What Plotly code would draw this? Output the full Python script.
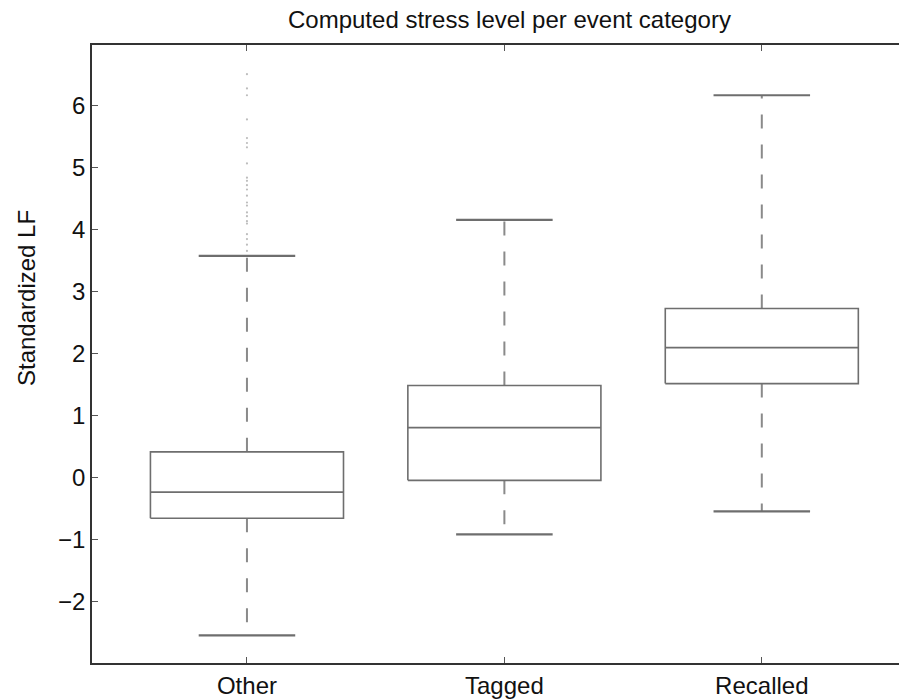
import plotly.graph_objects as go

categories = ["Other", "Tagged", "Recalled"]
q1 = [-0.66, -0.05, 1.51]
median = [-0.24, 0.80, 2.09]
q3 = [0.41, 1.48, 2.72]
lower_whisker = [-2.55, -0.92, -0.55]
upper_whisker = [3.57, 4.15, 6.16]
other_outliers = [6.50, 6.27, 6.16, 5.77, 5.47, 5.39, 5.32, 5.06, 4.83, 4.78,
                  4.71, 4.64, 4.54, 4.43, 4.38, 4.27, 4.21, 4.13, 4.09, 3.92,
                  3.84, 3.75, 3.65]
y_ticks = [-2, -1, 0, 1, 2, 3, 4, 5, 6]

BOX_HW = 0.375
CAP_HW = 0.1875
box_color = "#6e6e6e"
whisk_color = "#8a8a8a"
font = "Liberation Sans, Arial, Helvetica, sans-serif"
FS = 24

fig = go.Figure()
for i, cat in enumerate(categories):
    c = i + 1
    # whiskers (dashed)
    fig.add_trace(go.Scatter(x=[c, c], y=[q3[i], upper_whisker[i]], mode="lines",
                             line=dict(color=whisk_color, width=2, dash="14px,16px"),
                             hoverinfo="skip", showlegend=False))
    fig.add_trace(go.Scatter(x=[c, c], y=[q1[i], lower_whisker[i]], mode="lines",
                             line=dict(color=whisk_color, width=2, dash="14px,16px"),
                             hoverinfo="skip", showlegend=False))
    # caps
    for w in (upper_whisker[i], lower_whisker[i]):
        fig.add_trace(go.Scatter(x=[c - CAP_HW, c + CAP_HW], y=[w, w], mode="lines",
                                 line=dict(color=box_color, width=2.2),
                                 hoverinfo="skip", showlegend=False))
    # box
    fig.add_trace(go.Scatter(x=[c - BOX_HW, c + BOX_HW, c + BOX_HW, c - BOX_HW, c - BOX_HW],
                             y=[q1[i], q1[i], q3[i], q3[i], q1[i]], mode="lines",
                             line=dict(color=box_color, width=1.6),
                             hoverinfo="skip", showlegend=False))
    # median
    fig.add_trace(go.Scatter(x=[c - BOX_HW, c + BOX_HW], y=[median[i], median[i]], mode="lines",
                             line=dict(color=box_color, width=1.6),
                             hoverinfo="skip", showlegend=False))

fig.add_trace(go.Scatter(x=[1] * len(other_outliers), y=other_outliers, mode="markers",
                         marker=dict(color="#bdbdbd", size=2.2, symbol="circle"),
                         hoverinfo="skip", showlegend=False))

fig.update_layout(
    width=899, height=699,
    margin=dict(l=92, r=0, t=45, b=36),
    paper_bgcolor="white", plot_bgcolor="white",
    font=dict(family=font, size=FS, color="#111"),
    annotations=[
        dict(text="Computed stress level per event category", x=0.517, xref="paper",
             y=1, yref="paper", showarrow=False, font=dict(size=FS, family=font, color="#111"),
             xanchor="center", yanchor="bottom", yshift=10),
        dict(text="Standardized LF", x=-0.081, xref="paper", y=0.59, yref="paper",
             showarrow=False, textangle=-90, font=dict(size=FS, family=font, color="#111"),
             xanchor="center", yanchor="middle"),
    ],
)

fig.update_xaxes(range=[0.398, 3.533], tickvals=[1, 2, 3], ticktext=categories,
                 ticks="inside", ticklen=6, tickcolor="#555", tickwidth=1,
                 showline=True, linecolor="#333", linewidth=1.5, mirror="allticks",
                 showgrid=False, zeroline=False)
fig.update_yaxes(range=[-2.995, 6.97], tickvals=y_ticks,
                 ticks="inside", ticklen=6, tickcolor="#555", tickwidth=1,
                 showline=True, linecolor="#333", linewidth=1.5,
                 showgrid=False, zeroline=False, ticklabelstandoff=0)
fig.write_html("out.html", config={"displayModeBar": False},
               post_script="document.body.style.margin='0';document.body.style.overflow='hidden';")
